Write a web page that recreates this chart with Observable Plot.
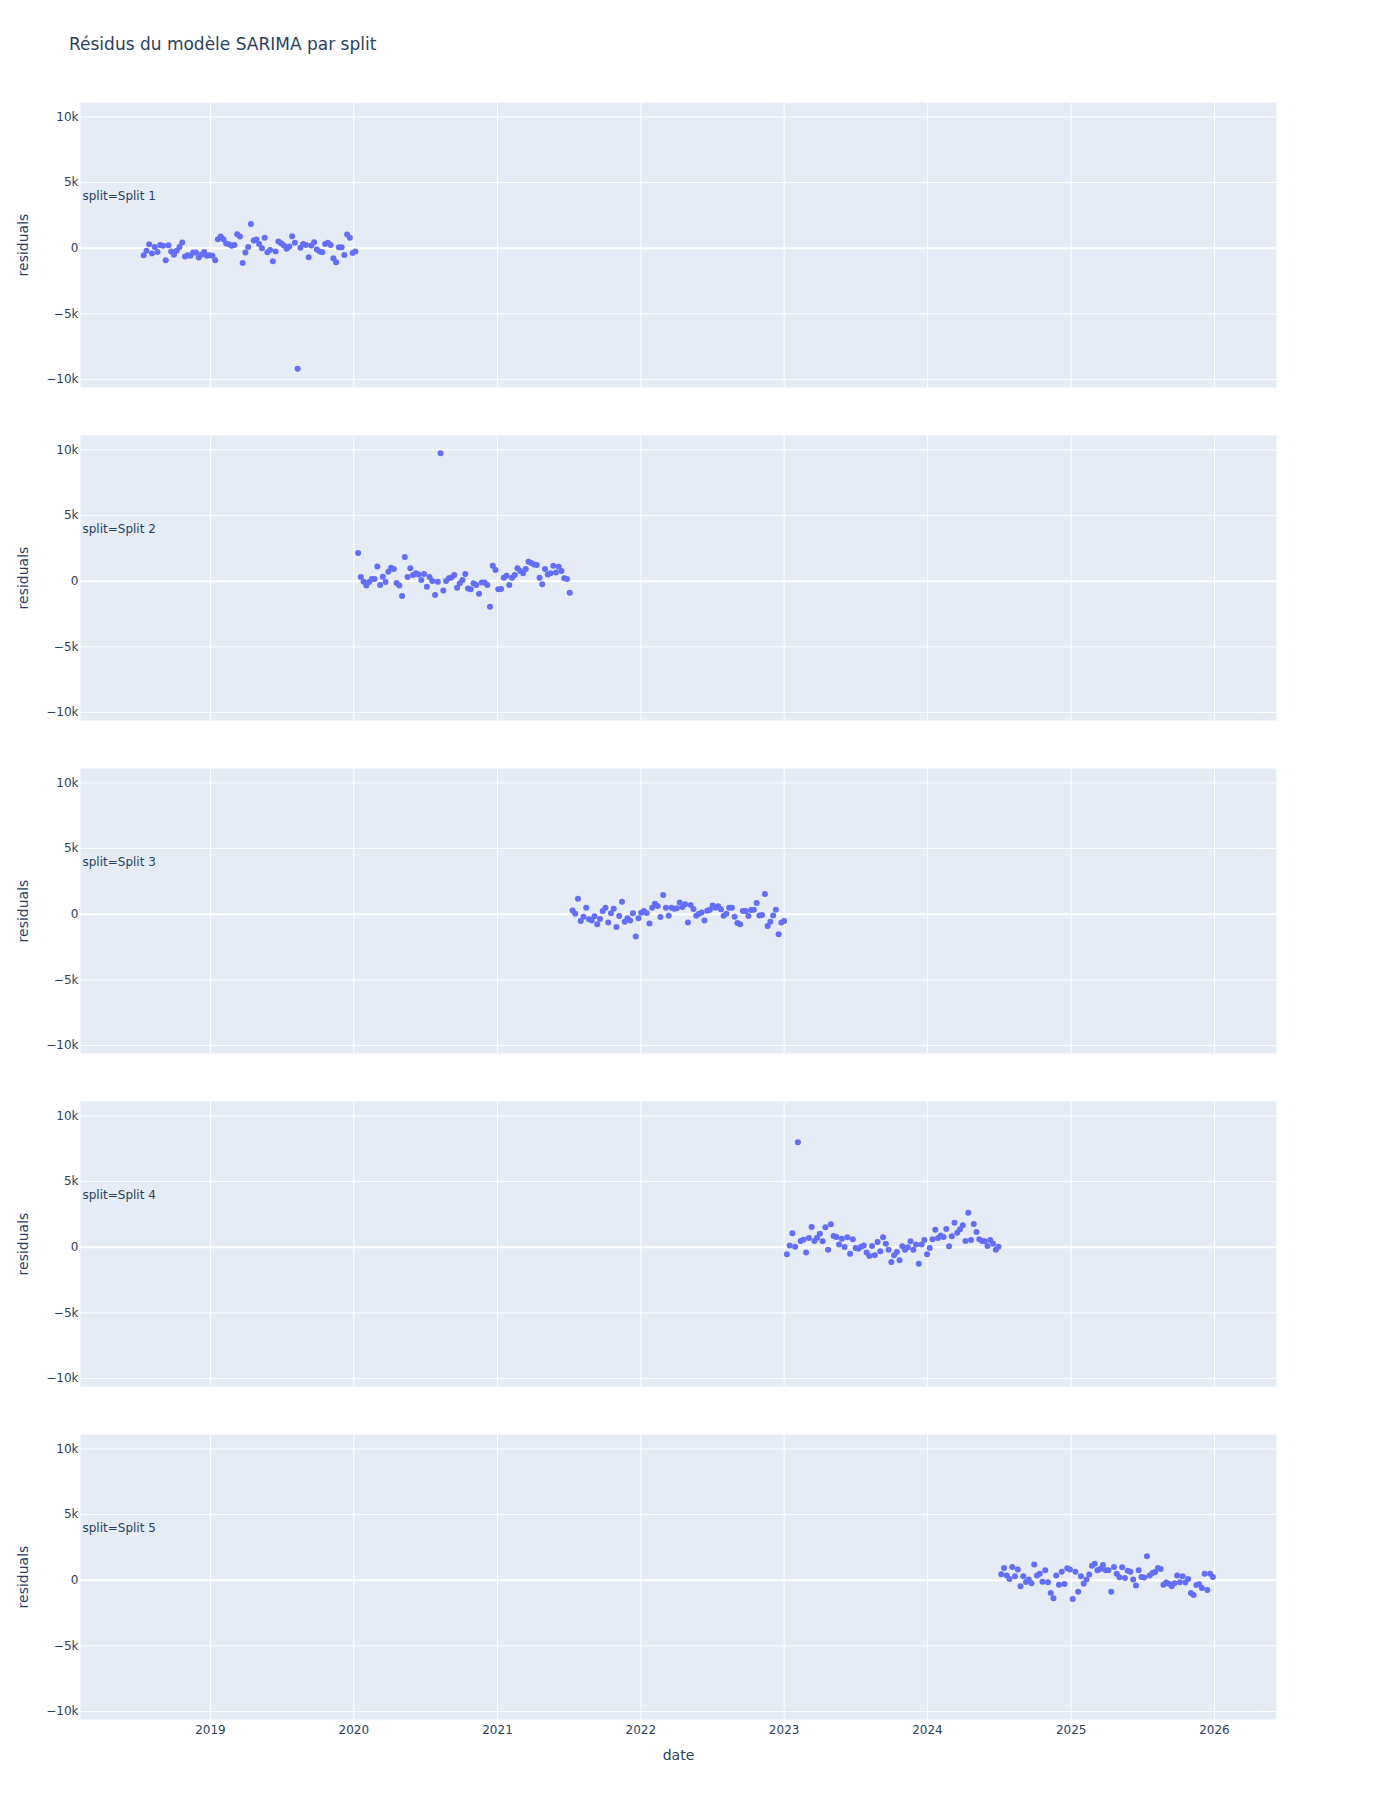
<!DOCTYPE html>
<html>
<head>
<meta charset="utf-8">
<script src="https://cdn.jsdelivr.net/npm/d3@7"></script>
<script src="https://cdn.jsdelivr.net/npm/@observablehq/plot@0.6"></script>
<style>
  html, body { margin: 0; padding: 0; background: #fff; }
  #wrap { position: relative; width: 1379px; height: 1800px; font-family: 'DejaVu Sans', verdana, arial, sans-serif; }
  #chart { position: absolute; left: 0; top: 0; }
  #title { position: absolute; left: 69px; top: 34px; font-size: 17px; line-height: 20px; color: #2a3f5f; white-space: nowrap; }
</style>
</head>
<body>
<div id="wrap">
  <div id="chart"></div>
  <div id="title">Résidus du modèle SARIMA par split</div>
</div>
<script>
// Facet categories and the first (weekly) date of each split
const splits = ["Split 1", "Split 2", "Split 3", "Split 4", "Split 5"];
const splitStarts = ["2018-07-15", "2020-01-12", "2021-07-11", "2023-01-08", "2024-07-07"];

// Residual values (one per week)
const split1 = [-530, -200, 300, -400, 100, -280, 250, 180, -910, 230, -250, -500, -200, 100, 430, -630, -530, -580, -330, -330,
  -710, -500, -280, -580, -530, -580, -910, 690, 890, 690, 360, 300, 180, 250, 1070, 890, -1120, -330, 100,
  1850, 580, 660, 330, 0, 790, -300, -130, -990, -250, 510, 380, 200, -50, 130, 910, 410, -9190, 30, 330,
  250, -690, 200, 460, -100, -250, -300, 330, 410, 250, -760, -1070, 80, 80, -510, 1040, 790, -360, -250];
const split2 = [2140, 320, -40, -320, -60, 160, 160, 1130, -290, 340, -60, 720, 1030, 930, -140, -320, -1130, 1840, 320, 980,
  470, 600, 520, 90, 550, -420, 320, 10, -1050, -40, 9740, -700, 10, 220, 290, 470, -490, -160, 90, 550,
  -550, -620, -160, -290, -950, -90, -90, -290, -1940, 1180, 850, -620, -600, 270, 420, -290, 270, 470, 980, 770,
  600, 930, 1480, 1380, 1280, 1230, 270, -240, 930, 520, 600, 1180, 670, 1100, 770, 220, 160, -880];
const split3 = [290, 40, 1180, -520, -190, 500, -390, -470, -160, -770, -370, 240, 500, -640, 70, 420, -970, -140, 950, -570,
  -310, -470, 70, -1690, -310, 120, 240, 90, -700, 500, 800, 620, -210, 1460, 500, -110, 500, 420, 450, 900,
  550, 750, -640, 700, 400, -110, 40, 140, -470, 270, 340, 670, 500, 600, 370, -110, 40, 500, 500, -190,
  -670, -770, 240, 240, -140, 320, 340, 850, -90, -60, 1540, -900, -570, -90, 340, -1530, -640, -520];
const split4 = [-540, 140, 1060, 40, 7990, 470, 570, -410, 700, 1540, 470, 730, 1030, 450, 1520, -190, 1740, 860, 780, 200,
  650, 20, 750, -490, 600, -60, -110, 40, 140, -410, -670, 90, -620, 400, -310, 750, 270, -190, -1120, -620,
  -360, -1000, 70, -190, -10, 450, -190, 200, -1250, 200, 550, -540, -60, 600, 1340, 700, 900, 780, 1390, 70,
  830, 1870, 1110, 1360, 1670, 470, 2630, 550, 1770, 1160, 600, 470, 450, 90, 550, 270, -190, 40];
const split5 = [450, 930, 350, 100, 1010, 300, 810, -460, 300, -130, 50, -230, 1190, 350, 500, -110, 760, -160, -970, -1380,
  350, -340, 650, -280, 910, 810, -1430, 650, -870, 300, -260, 50, 430, 1110, 1260, 760, 860, 1160, 760, 760,
  -870, 1010, 500, 220, 980, 170, 730, 650, 50, -410, 760, 250, 200, 1820, 350, 550, 630, 930, 860, -340,
  -180, -260, -460, -230, 350, -160, 300, -180, 100, -970, -1120, -360, -310, -590, 500, -740, 500, 250];

// Axis ticks
const yTicks = [-10000, -5000, 0, 5000, 10000];
const yearTicks = [2019, 2020, 2021, 2022, 2023, 2024, 2025, 2026];

const seriesBySplit = [split1, split2, split3, split4, split5];
const data = [];
seriesBySplit.forEach((vals, i) => {
  const start = new Date(splitStarts[i] + "T00:00:00Z");
  vals.forEach((v, j) => data.push({ split: splits[i], date: d3.utcDay.offset(start, 7 * j), residuals: v }));
});

const years = yearTicks.map(y => new Date(Date.UTC(y, 0, 1)));
const fmtK = d => d === 0 ? "0" : (d < 0 ? "\u2212" : "") + Math.abs(d) / 1000 + "k";
const FONT = "'DejaVu Sans', verdana, arial, sans-serif";

const chart = Plot.plot({
  width: 1379,
  height: 1800,
  marginTop: 100,
  marginBottom: 80,
  marginLeft: 80,
  marginRight: 103,
  style: { fontFamily: FONT, fontSize: "12px", color: "#2a3f5f", background: "transparent", overflow: "visible" },
  x: { type: "utc", domain: [new Date("2018-02-04T00:00:00Z"), new Date("2026-06-08T00:00:00Z")] },
  y: { domain: [-10610, 11100] },
  fy: { domain: splits, paddingInner: 0.1456, paddingOuter: 0, axis: null, label: null },
  marks: [
    Plot.frame({ fill: "#E5ECF6", stroke: null }),
    Plot.gridX({ ticks: years, stroke: "white", strokeOpacity: 1, strokeWidth: 1 }),
    Plot.gridY({ ticks: [-10000, -5000, 5000, 10000], stroke: "white", strokeOpacity: 1, strokeWidth: 1 }),
    Plot.ruleY([0], { stroke: "white", strokeWidth: 2 }),
    Plot.dot(data, { x: "date", y: "residuals", fy: "split", r: 3, fill: "#636efa", stroke: null }),
    Plot.axisY({ ticks: yTicks, tickSize: 0, tickPadding: 2, tickFormat: fmtK, label: null }),
    Plot.axisX({ ticks: years, tickSize: 0, tickPadding: 6, tickFormat: d3.utcFormat("%Y"), label: null }),
    Plot.text(splits, { fy: d => d, text: d => "split=" + d, frameAnchor: "top-left", dx: 2, dy: 94, textAnchor: "start", lineAnchor: "middle", fontSize: 12, fill: "#2a3f5f" }),
    Plot.text(splits, { fy: d => d, text: () => "residuals", frameAnchor: "left", dx: -57, rotate: -90, textAnchor: "middle", lineAnchor: "middle", fontSize: 14, fill: "#2a3f5f" }),
    Plot.text(["Split 5"], { fy: d => d, text: () => "date", frameAnchor: "bottom", dy: 36, textAnchor: "middle", lineAnchor: "middle", fontSize: 14, fill: "#2a3f5f" })
  ]
});
document.getElementById("chart").appendChild(chart);
</script>
</body>
</html>
